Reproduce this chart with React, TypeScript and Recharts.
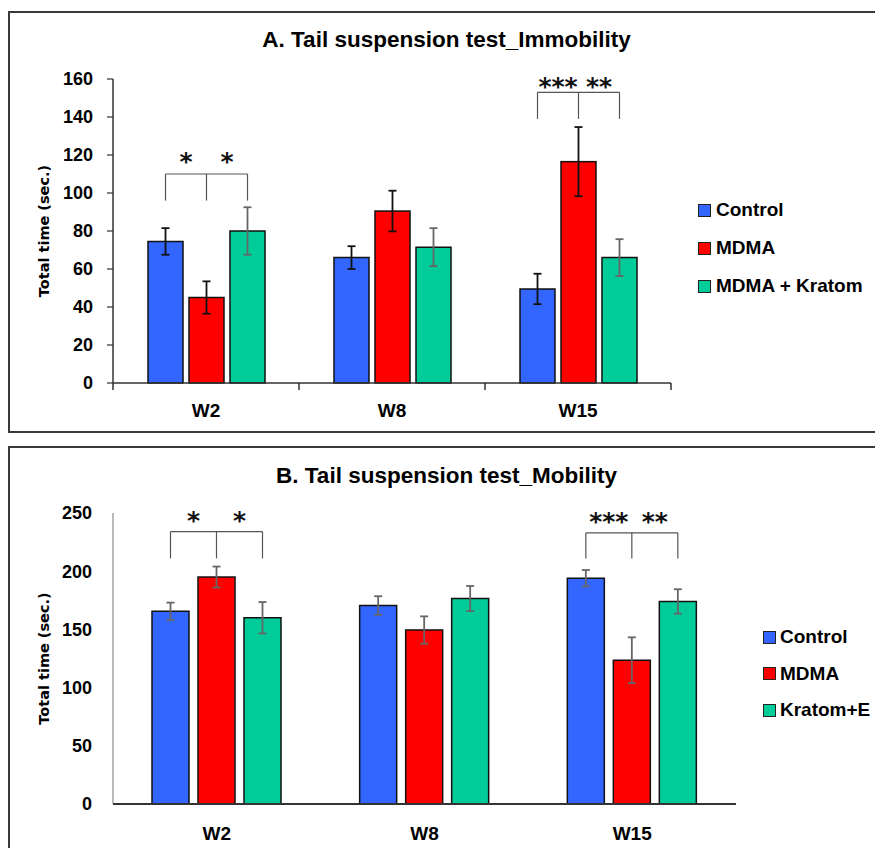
import React from "react";
import { BarChart, Bar, XAxis, YAxis, ErrorBar, Legend } from "recharts";

const categories = ["W2", "W8", "W15"];
const seriesOrder = ["control", "mdma", "kratom"];

// A. Immobility
const immControl = [74.5, 66, 49.5];
const immControlErr = [7, 6, 8];
const immMdma = [45, 90.5, 116.5];
const immMdmaErr = [8.5, 10.7, 18.2];
const immKratom = [80, 71.5, 66];
const immKratomErr = [12.5, 10, 9.7];
const immTicks = [0, 20, 40, 60, 80, 100, 120, 140, 160];
const immBracketTop = [110, null, 153];
const immBracketBottom = [96, null, 139];
const immStarLevel = [119, null, 158.5];
const immStarsLeft = ["*", "", "***"];
const immStarsRight = ["*", "", "**"];

// B. Mobility
const mobControl = [165.5, 170.5, 194];
const mobControlErr = [7.5, 8, 7];
const mobMdma = [195, 149.5, 123.5];
const mobMdmaErr = [9, 11.7, 19.7];
const mobKratom = [160, 176.5, 174];
const mobKratomErr = [13.5, 10.8, 10.5];
const mobTicks = [0, 50, 100, 150, 200, 250];
const mobBracketTop = [234, null, 233];
const mobBracketBottom = [211, null, 211];
const mobStarLevel = [247, null, 246.5];
const mobStarsLeft = ["*", "", "***"];
const mobStarsRight = ["*", "", "**"];

const BLUE = "#3366FF";
const RED = "#FF0000";
const GREEN = "#00CC99";
const FONT = "'Liberation Sans', Arial, sans-serif";
const LABEL_FONT = "'DejaVu Sans', Verdana, sans-serif";

function buildRows(
  control: number[], controlErr: number[],
  mdma: number[], mdmaErr: number[],
  kratom: number[], kratomErr: number[],
  top: (number | null)[], bottom: (number | null)[], star: (number | null)[],
  left: string[], right: string[],
) {
  return categories.map((name, i) => ({
    name,
    control: control[i],
    controlErr: controlErr[i],
    mdma: mdma[i],
    mdmaErr: mdmaErr[i],
    kratom: kratom[i],
    kratomErr: kratomErr[i],
    bracket: top[i] == null ? null : { top: top[i], bottom: bottom[i], star: star[i], left: left[i], right: right[i] },
  }));
}

const immRows = buildRows(immControl, immControlErr, immMdma, immMdmaErr, immKratom, immKratomErr,
  immBracketTop, immBracketBottom, immStarLevel, immStarsLeft, immStarsRight);
const mobRows = buildRows(mobControl, mobControlErr, mobMdma, mobMdmaErr, mobKratom, mobKratomErr,
  mobBracketTop, mobBracketBottom, mobStarLevel, mobStarsLeft, mobStarsRight);

// middle bar draws the significance bracket, using its own geometry for the y scale
function bracketShape(gap: number, lineColor: string) {
  return (props: any) => {
    const { x, y, width, height, fill, payload } = props;
    const rect = <rect x={x} y={y} width={width} height={height} fill={fill} stroke="#111" strokeWidth={1.5} />;
    const b = payload.bracket;
    if (!b) return <g>{rect}</g>;
    const base = y + height;
    const k = height / payload.mdma;
    const py = (v: number) => base - v * k;
    const cx = x + width / 2;
    const step = width + gap;
    const xs = [cx - step, cx, cx + step];
    const yTop = py(b.top);
    const yBot = py(b.bottom);
    const yStar = py(b.star) + 13;
    const starStyle = { fontFamily: LABEL_FONT, fontWeight: "bold" as const, fontSize: 25, fill: "#111" };
    return (
      <g>
        {rect}
        <line x1={xs[0]} x2={xs[2]} y1={yTop} y2={yTop} stroke={lineColor} strokeWidth={1.2} />
        {xs.map((xx, i) => (
          <line key={i} x1={xx} x2={xx} y1={yTop} y2={yBot} stroke={lineColor} strokeWidth={1.2} />
        ))}
        <text x={(xs[0] + xs[1]) / 2} y={yStar} textAnchor="middle" style={starStyle}>{b.left}</text>
        <text x={(xs[1] + xs[2]) / 2} y={yStar} textAnchor="middle" style={starStyle}>{b.right}</text>
      </g>
    );
  };
}

// category label, plus tick marks on the category edges when asked
function categoryTick(edges: boolean, baseline: number) {
  return (props: any) => {
    const { x, y, payload, index, visibleTicksCount, width } = props;
    const band = typeof width === "number" && visibleTicksCount ? width / visibleTicksCount : 2 * (payload.offset || 0);
    const half = band / 2;
    return (
      <g>
        {edges && <line x1={x - half} x2={x - half} y1={y} y2={y + 7} stroke="#333" strokeWidth={1.5} />}
        {edges && index === visibleTicksCount - 1 && (
          <line x1={x + half} x2={x + half} y1={y} y2={y + 7} stroke="#333" strokeWidth={1.5} />
        )}
        <text x={x} y={y + baseline} textAnchor="middle" fontFamily={FONT} fontWeight="bold" fontSize={19} fill="#000">
          {payload.value}
        </text>
      </g>
    );
  };
}

function legendContent(rowHeight: number, gap: number) {
  return ({ payload }: any) => {
    const items = [...(payload || [])].sort(
      (a: any, b: any) => seriesOrder.indexOf(a.dataKey) - seriesOrder.indexOf(b.dataKey),
    );
    return (
      <div>
        {items.map((p: any) => (
          <div key={p.value} style={{ display: "flex", alignItems: "center", height: rowHeight }}>
            <span style={{ width: 11, height: 11, background: p.color, border: "1px solid #222", display: "inline-block" }} />
            <span style={{ marginLeft: gap, fontFamily: FONT, fontWeight: "bold", fontSize: 19, color: "#000" }}>{p.value}</span>
          </div>
        ))}
      </div>
    );
  };
}

const tickStyle = { fontFamily: FONT, fontWeight: "bold", fontSize: 18, fill: "#000" };
const yLabel = {
  value: "Total time (sec.)",
  angle: -90,
  position: "insideLeft" as const,
  offset: 5,
  style: { textAnchor: "middle", fontFamily: LABEL_FONT, fontWeight: "bold", fontSize: 14.5, fill: "#000" },
};

const titleStyle: React.CSSProperties = {
  position: "absolute", left: 0, width: 893, textAlign: "center",
  fontFamily: FONT, fontWeight: "bold", fontSize: 22.5, lineHeight: 1, color: "#000",
};

export default function App() {
  return (
    <div style={{ position: "absolute", left: 0, top: 0, width: 875, height: 848, overflow: "hidden", background: "#fff" }}>
      <div style={{ position: "absolute", left: 8, top: 11, width: 880, height: 422, border: "2px solid #3a3a3a", boxSizing: "border-box" }} />
      <div style={{ position: "absolute", left: 8, top: 446, width: 880, height: 420, border: "2px solid #3a3a3a", boxSizing: "border-box" }} />

      <div style={{ ...titleStyle, top: 29 }}>A. Tail suspension test_Immobility</div>
      <div style={{ ...titleStyle, top: 465 }}>B. Tail suspension test_Mobility</div>

      <div style={{ position: "absolute", left: 0, top: 0 }}>
        <BarChart width={875} height={440} data={immRows} margin={{ top: 79, right: 204, bottom: 27, left: 39 }} barGap={6} barSize={35}>
          <XAxis dataKey="name" axisLine={{ stroke: "#333", strokeWidth: 1.5 }} tickLine={false} tickSize={0} tickMargin={0}
            height={30} tick={categoryTick(true, 34)} interval={0} />
          <YAxis domain={[0, 160]} ticks={immTicks} width={74} interval={0}
            axisLine={{ stroke: "#333", strokeWidth: 1.5 }} tickLine={{ stroke: "#333", strokeWidth: 1.2 }} tickSize={6} tickMargin={14}
            tick={tickStyle} label={yLabel} />
          <Legend layout="vertical" align="center" verticalAlign="middle" wrapperStyle={{ left: 698, top: 191, width: 177 }} content={legendContent(38, 5)} />
          <Bar dataKey="control" name="Control" fill={BLUE} stroke="#111" strokeWidth={1.5} isAnimationActive={false}>
            <ErrorBar dataKey="controlErr" width={4} stroke="#111" strokeWidth={1.8} isAnimationActive={false} />
          </Bar>
          <Bar dataKey="mdma" name="MDMA" fill={RED} stroke="#111" strokeWidth={1.5} isAnimationActive={false} shape={bracketShape(6, "#555")}>
            <ErrorBar dataKey="mdmaErr" width={4} stroke="#111" strokeWidth={1.8} isAnimationActive={false} />
          </Bar>
          <Bar dataKey="kratom" name="MDMA + Kratom" fill={GREEN} stroke="#111" strokeWidth={1.5} isAnimationActive={false}>
            <ErrorBar dataKey="kratomErr" width={4} stroke="#666" strokeWidth={1.8} isAnimationActive={false} />
          </Bar>
        </BarChart>
      </div>

      <div style={{ position: "absolute", left: 0, top: 440 }}>
        <BarChart width={875} height={408} data={mobRows} margin={{ top: 73, right: 139, bottom: 14, left: 39 }} barGap={9} barSize={37}>
          <XAxis dataKey="name" axisLine={{ stroke: "#333", strokeWidth: 1.8 }} tickLine={false} tickSize={0} tickMargin={0}
            height={30} tick={categoryTick(false, 36)} interval={0} />
          <YAxis domain={[0, 250]} ticks={mobTicks} width={74} interval={0}
            axisLine={{ stroke: "#777", strokeWidth: 1 }} tickLine={false} tickSize={0} tickMargin={21}
            tick={tickStyle} label={yLabel} />
          <Legend layout="vertical" align="center" verticalAlign="middle" wrapperStyle={{ left: 763, top: 179, width: 112 }} content={legendContent(36.5, 4)} />
          <Bar dataKey="control" name="Control" fill={BLUE} stroke="#111" strokeWidth={1.5} isAnimationActive={false}>
            <ErrorBar dataKey="controlErr" width={4} stroke="#666" strokeWidth={1.8} isAnimationActive={false} />
          </Bar>
          <Bar dataKey="mdma" name="MDMA" fill={RED} stroke="#111" strokeWidth={1.5} isAnimationActive={false} shape={bracketShape(9, "#555")}>
            <ErrorBar dataKey="mdmaErr" width={4} stroke="#666" strokeWidth={1.8} isAnimationActive={false} />
          </Bar>
          <Bar dataKey="kratom" name="Kratom+E" fill={GREEN} stroke="#111" strokeWidth={1.5} isAnimationActive={false}>
            <ErrorBar dataKey="kratomErr" width={4} stroke="#666" strokeWidth={1.8} isAnimationActive={false} />
          </Bar>
        </BarChart>
      </div>
    </div>
  );
}
